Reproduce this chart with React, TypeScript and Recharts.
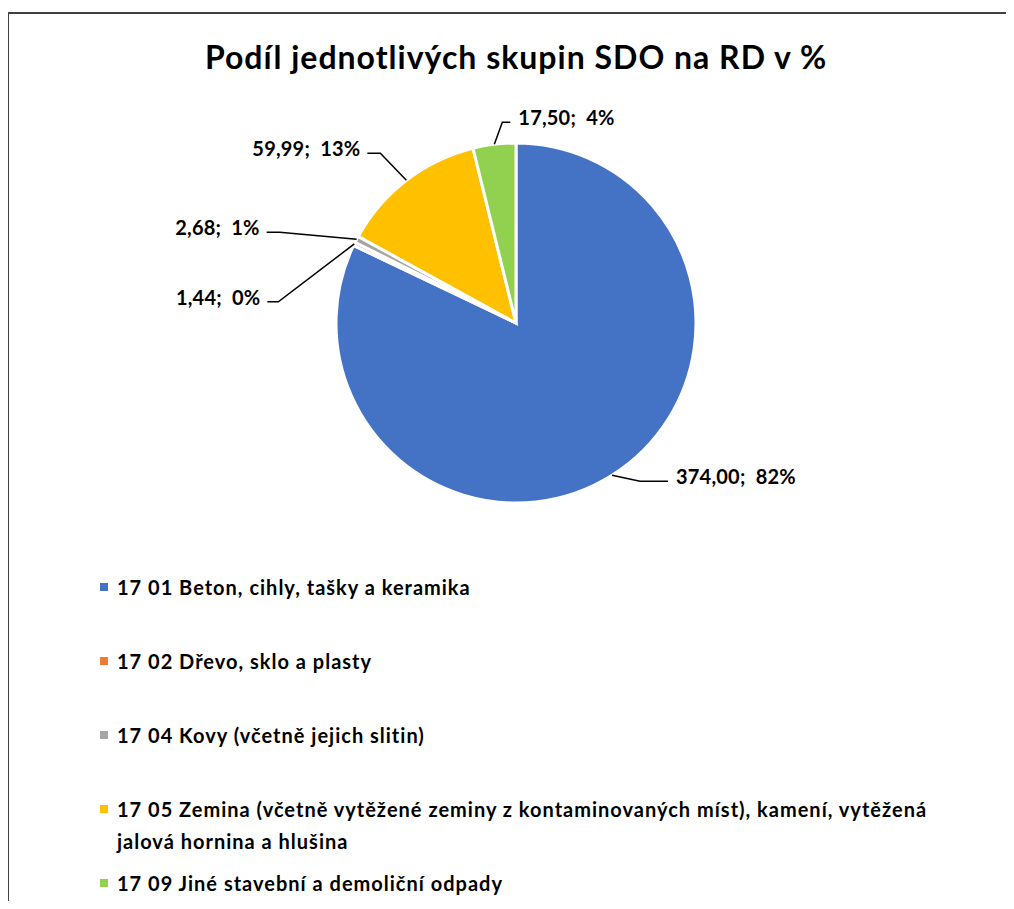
import { Cell, Legend, Pie, PieChart } from 'recharts'

// Skupiny stavebních a demoličních odpadů (SDO) na rodinný dům
const NAZVY = [
  '17 01 Beton, cihly, tašky a keramika',
  '17 02 Dřevo, sklo a plasty',
  '17 04 Kovy (včetně jejich slitin)',
  '17 05 Zemina (včetně vytěžené zeminy z kontaminovaných míst), kamení, vytěžená jalová hornina a hlušina',
  '17 09 Jiné stavební a demoliční odpady',
]
const HODNOTY = [374.0, 1.44, 2.68, 59.99, 17.5]

// Office paleta
const COLORS = ['#4472C4', '#ED7D31', '#A5A5A5', '#FFC000', '#92D050']

// zalomení odkazových čar popisků (posun od okraje výseče, délka vodorovné části)
const LEADERS = [
  { dx: 28, dy: 6, run: 28 },
  { dx: -76, dy: 58, run: -11 },
  { dx: -77, dy: -7, run: -13 },
  { dx: -26, dy: -27, run: -13 },
  { dx: 8, dy: -22, run: 8 },
]

const FONT = 'Lato, "Open Sans", sans-serif'

const data = NAZVY.map((name, i) => ({ name, value: HODNOTY[i] }))

const fmt = (v: number) => v.toFixed(2).replace('.', ',')

function renderLabel(props: any) {
  const { cx, cy, midAngle, outerRadius, percent, value, index } = props
  const rad = Math.PI / 180
  const sx = cx + outerRadius * Math.cos(-midAngle * rad)
  const sy = cy + outerRadius * Math.sin(-midAngle * rad)
  const l = LEADERS[index]
  const ex = sx + l.dx
  const ey = sy + l.dy
  const tx = ex + l.run
  const right = l.run >= 0
  return (
    <g>
      <polyline points={`${sx},${sy} ${ex},${ey} ${tx},${ey}`} fill="none" stroke="#000" strokeWidth={1.5} />
      <text
        x={tx + (right ? 8 : -7)}
        y={ey - 5}
        textAnchor={right ? 'start' : 'end'}
        dominantBaseline="central"
        fontFamily={FONT}
        fontWeight={700}
        fontSize={20}
        letterSpacing={0.2}
        fill="#000"
      >
        {`${fmt(value)};\u00a0 ${Math.round(percent * 100)}%`}
      </text>
    </g>
  )
}

function renderLegend(props: any) {
  const payload = props.payload || []
  return (
    <div style={{ fontFamily: FONT, fontWeight: 700, fontSize: 20, letterSpacing: 1, color: '#000' }}>
      {payload.map((p: any, i: number) => (
        <div key={i} style={{ position: 'relative', height: 74, paddingLeft: 17, width: 860, lineHeight: '32px' }}>
          <span
            style={{
              position: 'absolute',
              left: 0,
              top: 12,
              width: 8,
              height: 8,
              background: COLORS[i],
            }}
          />
          {p.value}
        </div>
      ))}
    </div>
  )
}

export default function App() {
  return (
    <div
      style={{
        position: 'relative',
        marginLeft: -1,
        marginTop: 4,
        width: 1005,
        height: 887,
        borderTop: '2px solid #404040',
        borderLeft: '2px solid #404040',
        background: '#fff',
      }}
    >
      <div
        style={{
          position: 'absolute',
          left: 0,
          top: 25,
          width: 1014,
          textAlign: 'center',
          fontFamily: FONT,
          fontWeight: 700,
          fontSize: 32,
          letterSpacing: 1,
          lineHeight: '36px',
          color: '#000',
          zIndex: 1,
        }}
      >
        Podíl jednotlivých skupin SDO na RD v %
      </div>
      <PieChart width={1005} height={887} margin={{ top: 0, right: 0, bottom: 0, left: 0 }}>
        <Pie
          data={data}
          dataKey="value"
          nameKey="name"
          cx={507}
          cy={309}
          outerRadius={180}
          startAngle={90}
          endAngle={-270}
          stroke="#fff"
          strokeWidth={3}
          label={renderLabel}
          labelLine={false}
          isAnimationActive={false}
        >
          {data.map((_, i) => (
            <Cell key={i} fill={COLORS[i]} />
          ))}
        </Pie>
        <Legend
          layout="vertical"
          verticalAlign="bottom"
          align="center"
          content={renderLegend}
          wrapperStyle={{ top: 557, left: 91, bottom: 'auto', width: 880 }}
        />
      </PieChart>
    </div>
  )
}
